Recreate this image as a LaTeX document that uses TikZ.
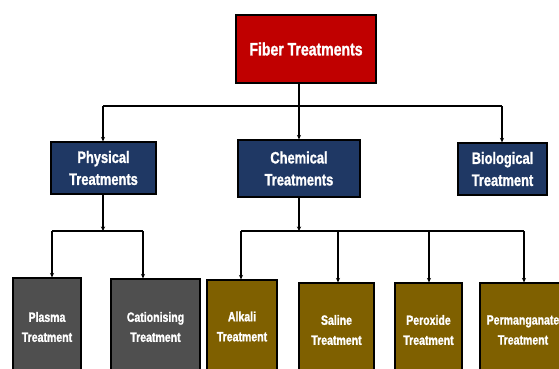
\documentclass[tikz,border=0pt]{standalone}
\usepackage{fontspec}
\setmainfont{Liberation Sans}[FakeStretch=0.78, BoldFeatures={FakeBold=1.2}]
\usetikzlibrary{arrows.meta,shadows}
\definecolor{redbox}{HTML}{C00000}
\definecolor{navybox}{HTML}{1F3864}
\definecolor{greybox}{HTML}{4F4F4F}
\definecolor{brownbox}{HTML}{7F6000}
\tikzset{
  box/.style={draw=black, line width=1.3pt, rectangle, align=center, text=white,
    font=\bfseries, inner sep=0pt, drop shadow={shadow xshift=1.2pt, shadow yshift=-1.2pt, fill=black!45, opacity=0.6}},
  topbox/.style={box, fill=redbox, font=\bfseries\fontsize{18}{20}\selectfont},
  midbox/.style={box, fill=navybox, font=\bfseries\fontsize{16.5}{22}\selectfont},
  leafg/.style={box, fill=greybox, font=\bfseries\fontsize{13.5}{20}\selectfont},
  leafb/.style={box, fill=brownbox, font=\bfseries\fontsize{13.5}{20}\selectfont},
  conn/.style={line width=1.3pt, draw=black},
  arr/.style={conn, -{Stealth[length=4.5pt,width=4.2pt]}},
}
\begin{document}
\begin{tikzpicture}[x=1pt,y=-1pt]
\useasboundingbox (0,0) rectangle (559,368);
\clip (0,0) rectangle (559,368);
% top
\node[topbox, minimum width=140pt, minimum height=68pt] (fiber) at (306,49) {Fiber Treatments};
% middle
\node[midbox, minimum width=105pt, minimum height=52pt] (phys) at (103.5,168) {Physical\\Treatments};
\node[midbox, minimum width=122pt, minimum height=57pt] (chem) at (299,168.5) {Chemical\\Treatments};
\node[midbox, minimum width=89pt, minimum height=52pt] (bio) at (502.5,169) {Biological\\Treatment};
% leaves
\node[leafg, minimum width=68pt, minimum height=98pt] (plasma) at (47,327) {Plasma\\Treatment};
\node[leafg, minimum width=89pt, minimum height=96pt] (cat) at (155.5,327) {Cationising\\Treatment};
\node[leafb, minimum width=70pt, minimum height=93pt] (alk) at (242,326.5) {Alkali\\Treatment};
\node[leafb, minimum width=75pt, minimum height=94pt] (sal) at (336.5,330) {Saline\\Treatment};
\node[leafb, minimum width=67pt, minimum height=94pt] (per) at (428.5,330) {Peroxide\\Treatment};
\node[leafb, minimum width=86pt, minimum height=94pt] (perm) at (523,330) {Permanganate\\Treatment};
% junction coordinates
\coordinate (ftop) at (299,83);
\coordinate (j1) at (299,106);
\coordinate (jp) at (103,106);
\coordinate (jb) at (502,106);
\coordinate (pb) at (103,194);
\coordinate (pj) at (103,231);
\coordinate (pjl) at (52,231);
\coordinate (pjr) at (143,231);
\coordinate (cb) at (299,197);
\coordinate (cj) at (299,231);
\coordinate (cjl) at (241,231);
\coordinate (cjr) at (524,231);
\coordinate (cjs) at (338,231);
\coordinate (cjp) at (429,231);
% top connectors
\draw[conn] (ftop) -- (j1);
\draw[conn] (jp) -- (jb);
\draw[arr] (jp) -- (jp |- phys.north);
\draw[arr] (j1) -- (j1 |- chem.north);
\draw[arr] (jb) -- (jb |- bio.north);
% physical branch
\draw[arr] (pb) -- (pj);
\draw[conn] (pjl) -- (pjr);
\draw[arr] (pjl) -- (pjl |- plasma.north);
\draw[arr] (pjr) -- (pjr |- cat.north);
% chemical branch
\draw[arr] (cb) -- (cj);
\draw[conn] (cjl) -- (cjr);
\draw[arr] (cjl) -- (cjl |- alk.north);
\draw[arr] (cjs) -- (cjs |- sal.north);
\draw[arr] (cjp) -- (cjp |- per.north);
\draw[arr] (cjr) -- (cjr |- perm.north);
\end{tikzpicture}
\end{document}
